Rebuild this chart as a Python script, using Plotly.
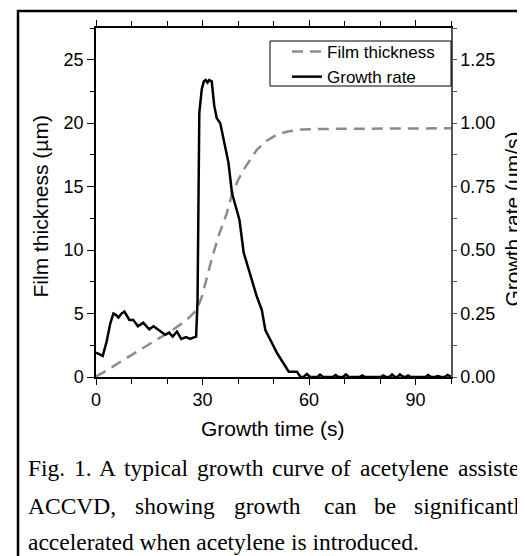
import plotly.graph_objects as go

# film thickness (um)
thick_t = [0, 2, 7.7, 12, 17.1, 21, 25.6, 28.4, 29.8, 30.8, 31.7, 32.6, 34.5, 36.9, 38.3, 40,
           41.6, 43.5, 45.3, 48, 51, 54, 58, 65, 75, 85, 100]
thick_um = [0.05, 0.35, 1.34, 2.05, 2.92, 3.6, 4.5, 5.3, 6.3, 7.4, 8.3, 9.3, 11.1, 12.95, 14.4, 15.5,
            16.35, 17.2, 17.9, 18.6, 19.1, 19.35, 19.5, 19.55, 19.55, 19.6, 19.6]

# growth rate (um/s)
rate_t = [0, 1.0, 1.9, 3.0, 4.0, 4.9, 5.6, 6.3, 7.2, 8.0, 8.7, 9.4, 10.5, 11.8, 13.3, 15.0, 16.2,
          17.2, 18.1, 19.5, 20.6, 21.6, 22.8, 24.0, 25.4, 26.5, 27.4, 28.2, 28.6, 29.1, 29.8,
          30.4, 30.9, 31.4, 31.9, 32.6, 33.3, 34.0, 35.0, 35.9, 37.3, 38.3, 39.7, 40.4, 41.6,
          42.5, 43.9, 45.3, 46.7, 47.7, 49.6, 51.0, 52.8, 54.3, 56.6, 57.6, 58.5, 59.4, 60.3,
          62.4, 63.1, 64.0, 66.7, 67.5, 68.3, 69.6, 70.4, 71.2, 74.2, 75.0, 75.8, 80.2, 80.9,
          81.7, 82.7, 83.4, 84.2, 84.9, 85.6, 86.4, 87.2, 87.9, 88.7, 92.8, 93.6, 94.4, 95.5,
          96.3, 97.1, 98.3, 99.0, 100]
rate_ums = [0.096, 0.09, 0.083, 0.14, 0.21, 0.25, 0.245, 0.234, 0.25, 0.258, 0.24, 0.225, 0.225,
            0.20, 0.214, 0.188, 0.20, 0.19, 0.179, 0.166, 0.175, 0.159, 0.179, 0.15, 0.157, 0.15,
            0.155, 0.159, 0.30, 1.04, 1.135, 1.165, 1.17, 1.16, 1.17, 1.165, 1.07, 1.02, 1.00,
            0.935, 0.845, 0.725, 0.66, 0.62, 0.49, 0.45, 0.383, 0.317, 0.265, 0.185, 0.133, 0.094,
            0.054, 0.021, 0.021, 0.0, 0.0, 0.012, 0.0, 0.0, 0.009, 0.0, 0.0, 0.008, 0.0, 0.0,
            0.01, 0.0, 0.0, 0.006, 0.0, 0.0, 0.006, 0.0, 0.0, 0.01, 0.0, 0.0, 0.01, 0.002, 0.0,
            0.006, 0.0, 0.0, 0.008, 0.0, 0.0, 0.004, 0.0, 0.0, 0.008, 0.002]

x_ticks = [0, 30, 60, 90]

caption1 = ["Fig.", "1.", "A", "typical", "growth", "curve", "of", "acetylene", "assisted"]
caption2 = ["ACCVD,", "showing", "growth", "can", "be", "significantly"]
caption3 = "accelerated when acetylene is introduced."

# page has an 8px body margin, so the figure is a bit smaller than the window
W, H = 517, 548
L, R, T, B = 88, 74, 20, 179


# screen pixel -> paper coords (plot area on screen: x 96..451, y 28..377)
def px(x):
    return (x - 96) / 355


def py(y):
    return (377 - y) / 349


sans = "Arial, Liberation Sans, sans-serif"
serif = "Times New Roman, Liberation Serif, serif"

fig = go.Figure()
fig.add_trace(go.Scatter(x=thick_t, y=thick_um, mode="lines", name="Film thickness",
                         line=dict(color="#8c8c8c", width=2.5, dash="11px,7px"), yaxis="y"))
fig.add_trace(go.Scatter(x=rate_t, y=rate_ums, mode="lines", name="Growth rate",
                         line=dict(color="black", width=2.5), yaxis="y2"))

fig.update_layout(
    width=W, height=H,
    margin=dict(l=L, r=R, t=T, b=B),
    paper_bgcolor="white", plot_bgcolor="white",
    font=dict(family=sans, size=17, color="black"),
    xaxis=dict(range=[0, 100], tickvals=x_ticks, showgrid=False, zeroline=False,
               showline=True, linecolor="black", linewidth=1.5, mirror="ticks",
               ticks="outside", ticklen=6, tickwidth=1.3, tickcolor="black",
               minor=dict(dtick=10, tick0=0, ticks="outside", ticklen=5, tickcolor="black"),
               tickfont=dict(size=18)),
    yaxis=dict(range=[0, 27.5], dtick=5, showgrid=False, zeroline=False,
               showline=True, linecolor="black", linewidth=1.5,
               ticks="outside", ticklen=7, tickwidth=1.3, tickcolor="black",
               minor=dict(dtick=2.5, ticks="outside", ticklen=4, tickcolor="black"),
               tickfont=dict(size=18)),
    yaxis2=dict(range=[0, 1.375], dtick=0.25, tickformat=".2f", overlaying="y", side="right",
                showgrid=False, zeroline=False, showline=True, linecolor="#555555", linewidth=1.5,
                ticks="outside", ticklen=4, tickwidth=1.3, tickcolor="#555555",
                minor=dict(dtick=0.125, ticks="outside", ticklen=4, tickcolor="#555555"),
                tickfont=dict(size=18)),
    legend=dict(x=px(287), xanchor="left", y=py(34), yanchor="top",
                borderwidth=0, bgcolor="rgba(0,0,0,0)",
                font=dict(size=17), tracegroupgap=0),
    showlegend=True,
)

# legend frame
fig.add_shape(type="rect", xref="paper", yref="paper", x0=px(270), x1=px(451),
              y0=py(86), y1=py(41), line=dict(color="black", width=1))

ann = [
    dict(text="Growth time (s)", x=px(273), y=py(428), font=dict(size=21)),
    dict(text="Film thickness (µm)", x=px(40), y=py(206.5), textangle=-90, font=dict(size=21)),
    dict(text="Growth rate (um/s)", x=px(512), y=py(219.5), textangle=-90, font=dict(size=21)),
]
for a in ann:
    a.update(xref="paper", yref="paper", showarrow=False, xanchor="center", yanchor="middle")
    fig.add_annotation(**a)

x1 = [26, 72, 97, 122, 195, 270, 329, 358, 456]
x2 = [26, 133, 232, 322, 372, 412]
for words, xs, yc in [(caption1, x1, 468.3), (caption2, x2, 506)]:
    for w, x in zip(words, xs):
        fig.add_annotation(text=w, x=px(x), y=py(yc), xref="paper", yref="paper",
                           showarrow=False, xanchor="left", yanchor="middle",
                           font=dict(family=serif, size=23.5))
fig.add_annotation(text=caption3, x=px(26), y=py(541.7), xref="paper", yref="paper",
                   showarrow=False, xanchor="left", yanchor="middle",
                   font=dict(family=serif, size=23.5))

# outer frame of the figure box
fig.add_shape(type="rect", xref="paper", yref="paper", x0=px(18), x1=px(560),
              y0=py(600), y1=py(11), line=dict(color="black", width=2.5))

fig.write_html("out.html")
